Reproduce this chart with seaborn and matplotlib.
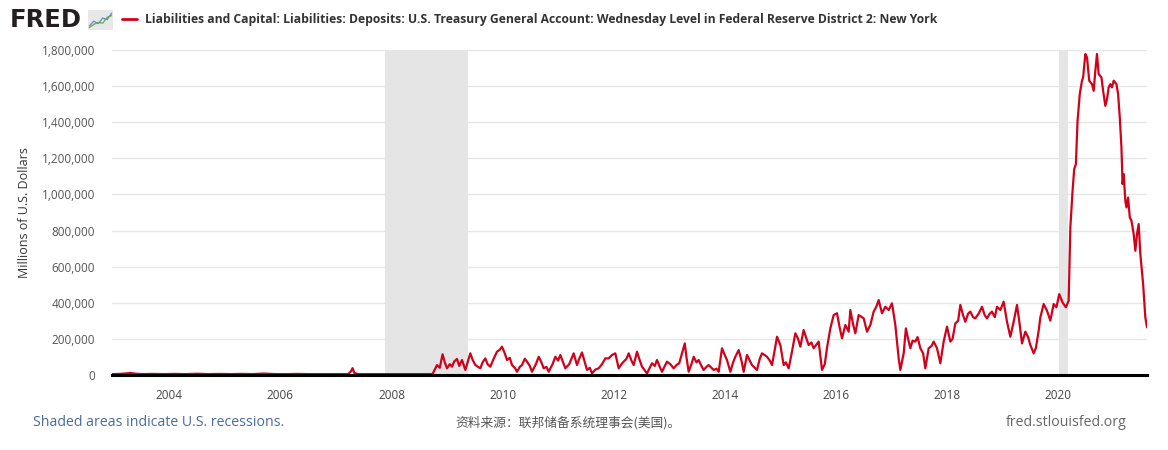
import matplotlib
matplotlib.use('Agg')
import matplotlib.pyplot as plt
import matplotlib.ticker as mticker
import seaborn as sns
import pandas as pd

# Serie (año decimal, millones de dólares)
years_early = [2002.97, 2003.1, 2003.2, 2003.3, 2003.4, 2003.5, 2003.7, 2003.9,
               2004.1, 2004.3, 2004.5, 2004.7, 2004.9, 2005.1, 2005.3, 2005.5,
               2005.7, 2005.9, 2006.1, 2006.3, 2006.5, 2006.7, 2006.9, 2007.1,
               2007.22, 2007.27, 2007.3, 2007.33, 2007.4, 2007.6, 2007.8, 2008.0,
               2008.2, 2008.4, 2008.6, 2008.74]
values_early = [5000, 6000, 8000, 11000, 7000, 5000, 6000, 5000,
                6000, 5000, 7000, 5000, 6000, 5000, 6000, 5000,
                8000, 5000, 5000, 6000, 5000, 5000, 5000, 5000,
                5000, 20000, 38000, 12000, 5000, 5000, 5000, 5000,
                4500, 5000, 5000, 5000]

years_2008_2012 = [2008.78, 2008.82, 2008.87, 2008.92, 2008.96, 2009.0, 2009.05, 2009.09,
                   2009.13, 2009.18, 2009.22, 2009.27, 2009.33, 2009.42, 2009.46, 2009.51,
                   2009.6, 2009.64, 2009.69, 2009.73, 2009.78, 2009.84, 2009.9, 2009.95,
                   2009.99, 2010.04, 2010.08, 2010.13, 2010.17, 2010.22, 2010.26, 2010.31,
                   2010.35, 2010.4, 2010.44, 2010.49, 2010.53, 2010.6, 2010.65, 2010.7,
                   2010.74, 2010.79, 2010.83, 2010.9, 2010.95, 2011.0, 2011.04, 2011.09,
                   2011.13, 2011.2, 2011.28, 2011.34, 2011.38, 2011.43, 2011.48, 2011.52,
                   2011.57, 2011.61, 2011.67, 2011.73, 2011.79, 2011.85, 2011.91, 2011.97]
values_2008_2012 = [30000, 55000, 40000, 115000, 70000, 37000, 60000, 46000,
                    75000, 89000, 50000, 83000, 28000, 120000, 85000, 55000,
                    37000, 70000, 92000, 60000, 46000, 90000, 129000, 140000,
                    157000, 120000, 83000, 95000, 55000, 40000, 18000, 45000,
                    55000, 90000, 74000, 50000, 18000, 60000, 101000, 70000,
                    37000, 45000, 18000, 60000, 101000, 80000, 111000, 70000,
                    37000, 60000, 120000, 55000, 90000, 125000, 70000, 28000,
                    40000, 9000, 30000, 37000, 60000, 92000, 92000, 111000]

years_2012_2016 = [2012.03, 2012.09, 2012.14, 2012.18, 2012.23, 2012.27, 2012.32, 2012.36,
                   2012.42, 2012.46, 2012.51, 2012.55, 2012.6, 2012.65, 2012.69, 2012.74,
                   2012.78, 2012.83, 2012.87, 2012.92, 2012.96, 2013.02, 2013.08, 2013.13,
                   2013.18, 2013.23, 2013.28, 2013.31, 2013.35, 2013.4, 2013.44, 2013.49,
                   2013.53, 2013.58, 2013.62, 2013.67, 2013.71, 2013.76, 2013.8, 2013.85,
                   2013.89, 2013.95, 2014.0, 2014.04, 2014.1, 2014.15, 2014.19, 2014.25,
                   2014.3, 2014.34, 2014.4, 2014.45, 2014.49, 2014.54, 2014.58, 2014.63,
                   2014.67, 2014.72, 2014.76, 2014.81, 2014.85, 2014.9, 2014.94, 2015.0,
                   2015.06, 2015.1, 2015.15, 2015.21, 2015.27, 2015.32, 2015.36, 2015.42,
                   2015.46, 2015.51, 2015.56, 2015.6, 2015.69, 2015.75, 2015.8, 2015.84,
                   2015.9, 2015.96]
values_2012_2016 = [120000, 37000, 60000, 74000, 90000, 120000, 80000, 55000,
                    129000, 90000, 46000, 30000, 9000, 40000, 65000, 50000,
                    83000, 45000, 18000, 50000, 74000, 60000, 37000, 55000,
                    65000, 120000, 175000, 100000, 18000, 60000, 101000, 70000,
                    83000, 50000, 28000, 45000, 55000, 40000, 28000, 35000,
                    18000, 148000, 110000, 83000, 18000, 70000, 101000, 138000,
                    80000, 18000, 111000, 80000, 55000, 40000, 28000, 90000,
                    120000, 110000, 101000, 80000, 55000, 140000, 212000, 166000,
                    55000, 70000, 37000, 130000, 231000, 200000, 157000, 249000,
                    210000, 166000, 180000, 148000, 185000, 28000, 60000, 150000,
                    258000, 332000]

years_2016_2020 = [2016.02, 2016.07, 2016.11, 2016.17, 2016.23, 2016.26, 2016.31, 2016.35,
                   2016.41, 2016.5, 2016.56, 2016.62, 2016.68, 2016.73, 2016.77, 2016.83,
                   2016.89, 2016.95, 2017.01, 2017.07, 2017.13, 2017.16, 2017.22, 2017.26,
                   2017.3, 2017.34, 2017.38, 2017.43, 2017.47, 2017.52, 2017.57, 2017.61,
                   2017.67, 2017.72, 2017.76, 2017.82, 2017.88, 2017.94, 2018.0, 2018.06,
                   2018.1, 2018.15, 2018.2, 2018.24, 2018.29, 2018.33, 2018.38, 2018.42,
                   2018.47, 2018.51, 2018.57, 2018.63, 2018.68, 2018.72, 2018.77, 2018.81,
                   2018.86, 2018.9, 2018.96, 2019.02, 2019.08, 2019.14, 2019.2, 2019.26,
                   2019.3, 2019.35, 2019.41, 2019.46, 2019.5, 2019.56, 2019.6, 2019.65,
                   2019.68, 2019.74, 2019.8, 2019.86, 2019.92, 2019.97, 2020.02, 2020.08,
                   2020.14, 2020.19]
values_2016_2020 = [342000, 260000, 203000, 277000, 240000, 360000, 280000, 231000,
                    332000, 314000, 240000, 277000, 351000, 380000, 415000, 342000,
                    378000, 360000, 397000, 277000, 92000, 28000, 120000, 258000,
                    200000, 148000, 190000, 185000, 210000, 148000, 120000, 37000,
                    148000, 160000, 185000, 148000, 65000, 185000, 268000, 185000,
                    200000, 286000, 300000, 388000, 330000, 295000, 340000, 351000,
                    320000, 314000, 340000, 378000, 330000, 314000, 340000, 351000,
                    320000, 378000, 360000, 406000, 295000, 212000, 295000, 388000,
                    300000, 175000, 240000, 210000, 166000, 120000, 150000, 245000,
                    319000, 393000, 356000, 301000, 393000, 375000, 448000, 402000,
                    375000, 412000]

years_2020_2021 = [2020.22, 2020.26, 2020.29, 2020.32, 2020.35, 2020.39, 2020.43, 2020.45,
                   2020.49, 2020.52, 2020.56, 2020.61, 2020.64, 2020.67, 2020.7, 2020.73,
                   2020.78, 2020.81, 2020.85, 2020.88, 2020.91, 2020.94, 2020.97, 2021.0,
                   2021.05, 2021.08, 2021.11, 2021.14, 2021.16, 2021.18, 2021.21, 2021.23,
                   2021.26, 2021.29, 2021.32, 2021.36, 2021.39, 2021.42, 2021.45, 2021.48,
                   2021.53, 2021.57, 2021.6]
values_2020_2021 = [817000, 1020000, 1141000, 1168000, 1408000, 1556000, 1630000, 1648000,
                    1778000, 1759000, 1630000, 1611000, 1574000, 1685000, 1778000, 1667000,
                    1648000, 1574000, 1491000, 1528000, 1593000, 1611000, 1593000, 1630000,
                    1611000, 1556000, 1426000, 1260000, 1058000, 1113000, 965000, 928000,
                    983000, 873000, 854000, 781000, 688000, 781000, 836000, 670000,
                    504000, 319000, 264000]

recessions = [(2007.88, 2009.37), (2020.02, 2020.17)]
tick_years = [2004, 2006, 2008, 2010, 2012, 2014, 2016, 2018, 2020]

df = pd.DataFrame({
    'year': years_early + years_2008_2012 + years_2012_2016 + years_2016_2020 + years_2020_2021,
    'value': values_early + values_2008_2012 + values_2012_2016 + values_2016_2020 + values_2020_2021,
})

titulo = ('Liabilities and Capital: Liabilities: Deposits: U.S. Treasury General Account: '
          'Wednesday Level in Federal Reserve District 2: New York')

sns.set_style('white')
plt.rcParams['font.family'] = ['Open Sans', 'Noto Sans CJK SC', 'DejaVu Sans']

W, H = 1168, 450
fig = plt.figure(figsize=(W / 100, H / 100), dpi=100)
ax = fig.add_axes([112 / W, 1 - 375 / H, (1147 - 112) / W, (375 - 50) / H])

for ini, fin in recessions:
    ax.axvspan(ini, fin, color='#e5e5e5', lw=0, zorder=0)

sns.lineplot(data=df, x='year', y='value', ax=ax, color='#d0021b', lw=1.6,
             estimator=None, sort=False, zorder=3)

ax.set_xlim(2002.97, 2021.6)
ax.set_ylim(0, 1800000)
ax.set_yticks(range(0, 1800001, 200000))
ax.yaxis.set_major_formatter(mticker.FuncFormatter(lambda v, p: f'{int(v):,}'))
ax.set_xticks(tick_years)
ax.set_xticklabels([str(t) for t in tick_years])
ax.grid(axis='y', color='#e6e6e6', lw=1)
ax.set_axisbelow(True)
for s in ['top', 'right', 'left']:
    ax.spines[s].set_visible(False)
ax.spines['bottom'].set_color('black')
ax.spines['bottom'].set_linewidth(2.2)
ax.spines['bottom'].set_zorder(4)
ax.tick_params(axis='x', length=6, width=1, color='#ccd6eb', labelsize=8.5,
               labelcolor='#444444', pad=4)
ax.tick_params(axis='y', length=0, labelsize=8.5, labelcolor='#555555', pad=12)
ax.set_xlabel('')
ax.set_ylabel('Millions of U.S. Dollars', fontsize=9, color='#333333', labelpad=8)

# Cabecera
fig.text(10 / W, 1 - 20 / H, 'FRED', fontsize=17.5, fontweight='heavy', color='#231f20',
         va='center', ha='left', family='DejaVu Sans')
logo = fig.add_axes([88 / W, 1 - 30 / H, 25 / W, 20 / H])
logo.set_facecolor('#e8e8e8')
logo_x = [0, 1, 2, 3, 4, 5]
logo_azul = [1, 2.2, 1.6, 3.0, 2.6, 4.2]
logo_verde = [0.6, 1.4, 1.9, 1.7, 3.2, 3.6]
logo.plot(logo_x, logo_azul, color='#5b8cc9', lw=0.9)
logo.plot(logo_x, logo_verde, color='#6aa84f', lw=0.9)
logo.set_xlim(-0.3, 5.3)
logo.set_ylim(0, 5)
logo.set_xticks([])
logo.set_yticks([])
for s in logo.spines.values():
    s.set_visible(False)

fig.add_artist(plt.Line2D([122 / W, 137 / W], [1 - 19 / H, 1 - 19 / H], color='#d0021b', lw=2))
fig.text(145 / W, 1 - 19 / H, titulo, fontsize=8.75, fontweight='bold', color='#333333',
         va='center', ha='left')

# Pie
fig.text(33 / W, 1 - 423 / H, 'Shaded areas indicate U.S. recessions.', fontsize=10.2,
         color='#4a6b9d', va='center', ha='left')
fig.text(455 / W, 1 - 423 / H, '资料来源：联邦储备系统理事会(美国)。', fontsize=9.2,
         color='#555555', va='center', ha='left',
         family=['Noto Sans CJK SC', 'DejaVu Sans'])
fig.text(1127 / W, 1 - 423 / H, 'fred.stlouisfed.org', fontsize=10.2, color='#666666',
         va='center', ha='right')

fig.savefig('out.png', dpi=100)
